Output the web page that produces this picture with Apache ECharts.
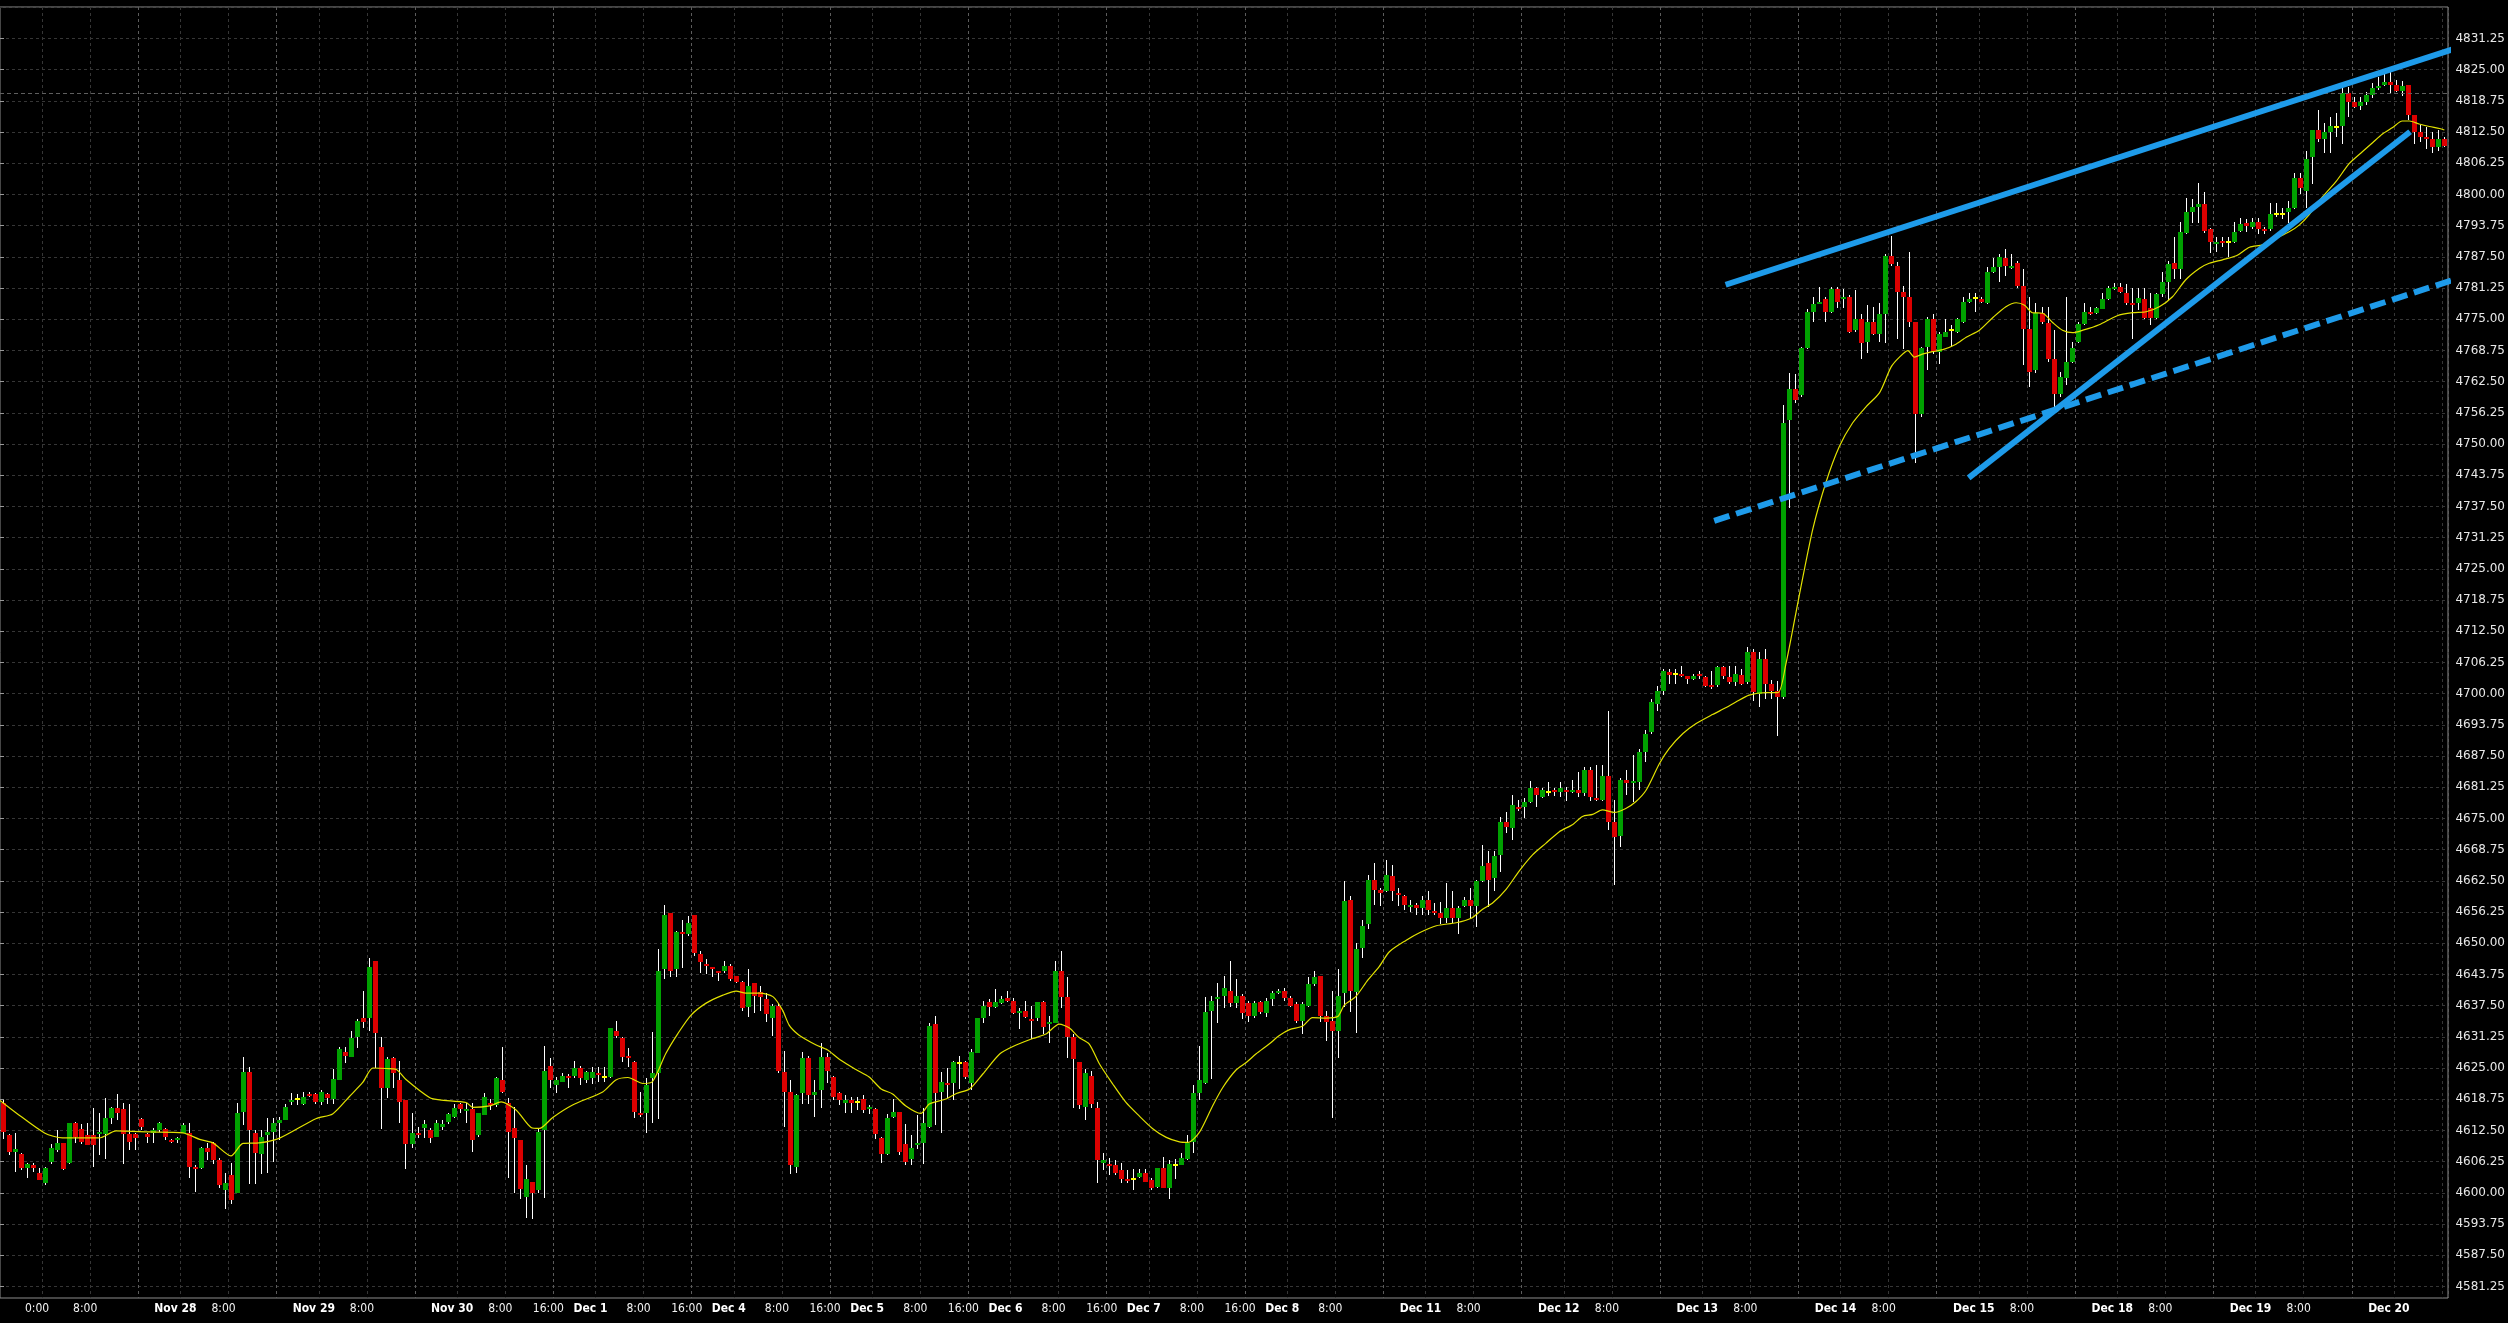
<!DOCTYPE html>
<html>
<head>
<meta charset="utf-8">
<script src="https://cdn.jsdelivr.net/npm/echarts@6.0.0/dist/echarts.min.js"></script>
<style>
html, body { margin:0; padding:0; background:#000; overflow:hidden; }
#chart { width:2508px; height:1323px; }
</style>
</head>
<body>
<div id="chart"></div>
<script>
// ---------- time axis (hourly bars) ----------
const preSession = ['Nov 24 12:00','Nov 26 18:00','Nov 26 19:00','Nov 26 20:00','Nov 26 21:00','Nov 26 22:00','Nov 26 23:00'];
const tradingDays = ['Nov 27','Nov 28','Nov 29','Nov 30','Dec 1','Dec 4','Dec 5','Dec 6','Dec 7','Dec 8','Dec 11','Dec 12','Dec 13','Dec 14','Dec 15','Dec 18','Dec 19'];
const sundayEvening = {'Dec 1':'Dec 3','Dec 8':'Dec 10','Dec 15':'Dec 17'};
const sessionHours = [0,1,2,3,4,5,6,7,8,9,10,11,12,13,14,15,16,18,19,20,21,22,23];
const lastDay = 'Dec 20';
const lastDayHours = [0,1,2,3,4,5,6,7,8];
const gridHours = ['0:00','8:00','16:00'];

// x tick labels
const xTickCats = ['Nov 27 0:00','Nov 27 8:00','Nov 28 0:00','Nov 28 8:00','Nov 29 0:00','Nov 29 8:00',
 'Nov 30 0:00','Nov 30 8:00','Nov 30 16:00','Dec 1 0:00','Dec 1 8:00','Dec 1 16:00',
 'Dec 4 0:00','Dec 4 8:00','Dec 4 16:00','Dec 5 0:00','Dec 5 8:00','Dec 5 16:00',
 'Dec 6 0:00','Dec 6 8:00','Dec 6 16:00','Dec 7 0:00','Dec 7 8:00','Dec 7 16:00',
 'Dec 8 0:00','Dec 8 8:00','Dec 11 0:00','Dec 11 8:00','Dec 12 0:00','Dec 12 8:00',
 'Dec 13 0:00','Dec 13 8:00','Dec 14 0:00','Dec 14 8:00','Dec 15 0:00','Dec 15 8:00',
 'Dec 18 0:00','Dec 18 8:00','Dec 19 0:00','Dec 19 8:00','Dec 20 0:00'];
const xTickText = ['0:00','8:00','Nov 28','8:00','Nov 29','8:00',
 'Nov 30','8:00','16:00','Dec 1','8:00','16:00',
 'Dec 4','8:00','16:00','Dec 5','8:00','16:00',
 'Dec 6','8:00','16:00','Dec 7','8:00','16:00',
 'Dec 8','8:00','Dec 11','8:00','Dec 12','8:00',
 'Dec 13','8:00','Dec 14','8:00','Dec 15','8:00',
 'Dec 18','8:00','Dec 19','8:00','Dec 20'];

// ---------- OHLC ----------
const open = [
4618.0,4611.5,4608.25,4607.75,4605.0,4605.5,4604.0,4602.0,4606.25,4608.5,
4610.0,4606.0,4614.0,4612.75,4611.5,4611.5,4611.75,4611.75,4615.0,4617.0,
4616.75,4611.75,4611.75,4614.75,4611.75,4612.0,4612.5,4612.75,4610.5,4610.5,
4612.0,4612.0,4605.25,4605.0,4609.0,4610.0,4606.5,4600.5,4603.5,4600.0,
4616.25,4624.25,4612.0,4607.75,4611.5,4612.25,4614.0,4614.5,4618.25,4618.75,
4617.75,4619.75,4619.75,4618.25,4619.75,4618.75,4622.5,4628.25,4627.25,4631.25,
4635.0,4635.0,4646.5,4629.25,4621.0,4627.0,4622.5,4618.5,4609.75,4612.0,
4613.0,4612.5,4611.25,4613.25,4614.25,4615.25,4617.75,4616.5,4616.75,4611.5,
4615.5,4618.0,4617.5,4622.5,4618.0,4613.0,4610.5,4599.25,4602.25,4600.5,
4612.5,4625.5,4621.5,4622.25,4623.5,4623.5,4625.0,4622.5,4623.0,4624.0,
4623.25,4623.25,4632.5,4631.0,4627.5,4626.25,4616.0,4616.0,4623.0,4624.0,
4644.75,4656.0,4644.75,4652.25,4651.75,4655.75,4647.75,4645.75,4645.25,4644.5,
4644.5,4645.5,4643.5,4642.25,4637.25,4642.0,4640.25,4638.75,4635.0,4637.5,
4624.25,4620.25,4605.25,4620.0,4627.0,4619.5,4620.5,4627.25,4623.25,4620.0,
4618.0,4618.5,4618.25,4618.75,4616.75,4616.75,4611.0,4607.75,4615.25,4616.25,
4609.75,4606.75,4609.75,4610.0,4613.25,4633.75,4620.25,4622.0,4622.0,4626.0,
4626.25,4622.0,4628.0,4635.0,4638.25,4637.25,4638.0,4639.0,4638.5,4636.0,
4636.5,4634.75,4635.0,4638.25,4634.0,4634.0,4644.5,4639.25,4631.25,4626.25,
4617.25,4623.5,4617.0,4606.0,4605.75,4605.5,4604.5,4602.75,4602.75,4603.25,
4604.0,4602.5,4601.25,4605.0,4601.0,4605.5,4605.5,4606.75,4610.25,4620.0,
4622.0,4636.5,4638.75,4639.5,4640.5,4638.0,4639.5,4638.0,4635.5,4638.25,
4636.0,4638.75,4640.0,4640.5,4639.0,4637.75,4634.5,4637.5,4641.75,4643.5,
4635.5,4634.5,4632.5,4640.0,4658.75,4640.25,4649.0,4653.75,4662.75,4660.75,
4660.5,4663.5,4660.0,4659.5,4657.5,4657.75,4657.0,4658.75,4656.5,4656.0,
4655.0,4657.0,4655.0,4657.5,4658.75,4657.5,4662.5,4666.0,4663.0,4667.75,
4674.25,4673.0,4677.25,4677.25,4678.25,4681.0,4679.25,4680.25,4680.75,4680.25,
4680.75,4680.25,4680.75,4680.0,4684.75,4679.0,4678.75,4683.5,4674.25,4671.5,
4682.75,4682.0,4682.25,4688.25,4692.25,4698.0,4700.5,4704.25,4704.0,4704.0,
4703.5,4703.0,4704.0,4703.25,4701.75,4701.75,4705.25,4703.25,4702.25,4703.75,
4702.25,4708.25,4700.0,4707.0,4702.0,4700.5,4699.25,4754.75,4761.0,4759.75,
4769.25,4776.5,4778.25,4779.0,4776.5,4781.0,4779.25,4779.5,4772.75,4775.0,
4770.5,4774.5,4772.0,4776.0,4787.75,4785.75,4780.5,4779.5,4774.5,4756.0,
4769.5,4775.0,4768.5,4771.5,4772.75,4772.5,4774.5,4778.5,4779.25,4779.0,
4778.25,4784.5,4785.5,4787.25,4785.25,4786.25,4781.75,4773.0,4764.75,4776.25,
4774.25,4767.0,4760.0,4763.25,4766.5,4770.5,4774.0,4776.5,4776.25,4777.0,
4779.0,4781.0,4781.5,4780.25,4778.25,4778.25,4779.0,4777.25,4775.25,4780.0,
4782.5,4786.25,4785.0,4792.25,4796.5,4797.5,4798.0,4793.0,4790.25,4790.75,
4790.5,4790.5,4792.75,4794.25,4793.5,4794.5,4793.0,4793.0,4796.0,4796.0,
4796.5,4797.25,4803.25,4800.75,4807.5,4813.0,4811.0,4812.5,4813.5,4813.75,
4820.25,4818.5,4817.75,4818.5,4820.0,4821.5,4822.0,4822.5,4822.0,4820.75,
4822.0,4816.0,4812.5,4811.5,4811.0,4809.5,4811.0
];
const high = [
4618.5,4611.75,4612.0,4608.0,4606.0,4606.0,4605.0,4605.25,4609.75,4612.5,
4610.0,4614.0,4614.25,4613.75,4614.0,4617.0,4616.0,4619.0,4617.25,4619.75,
4618.0,4617.75,4612.0,4615.0,4612.0,4613.0,4614.25,4613.0,4610.75,4611.25,
4614.0,4614.0,4605.5,4609.25,4610.0,4610.25,4607.0,4604.0,4606.0,4618.0,
4627.25,4625.25,4612.5,4612.5,4615.0,4615.0,4615.25,4617.75,4620.0,4619.75,
4620.25,4620.25,4620.0,4620.5,4620.0,4624.75,4629.25,4629.25,4632.5,4634.75,
4640.5,4647.0,4646.5,4631.25,4627.25,4627.25,4626.5,4618.5,4616.0,4613.25,
4614.5,4613.0,4614.5,4614.5,4616.0,4617.75,4618.0,4618.0,4618.0,4616.0,
4620.0,4618.75,4623.25,4629.25,4619.0,4617.25,4610.5,4605.5,4602.25,4613.0,
4629.5,4627.0,4623.25,4624.0,4623.75,4626.5,4625.5,4624.5,4625.25,4625.25,
4625.25,4633.0,4634.5,4631.25,4629.0,4626.5,4620.25,4623.0,4632.25,4648.75,
4657.75,4656.0,4652.5,4654.75,4655.5,4655.75,4648.5,4646.75,4645.25,4644.5,
4646.5,4645.75,4643.5,4642.5,4644.75,4642.0,4641.5,4640.0,4637.75,4638.0,
4628.5,4622.5,4619.75,4628.25,4627.5,4622.5,4630.0,4628.0,4623.5,4620.25,
4619.5,4619.25,4619.25,4619.5,4617.5,4617.0,4611.25,4615.75,4618.75,4616.25,
4613.75,4611.5,4615.5,4617.0,4634.0,4635.5,4624.25,4625.0,4626.5,4627.5,
4626.5,4628.75,4635.0,4638.5,4638.75,4640.75,4639.5,4640.5,4639.0,4637.0,
4638.5,4637.5,4638.25,4638.5,4635.5,4646.5,4648.5,4643.25,4631.75,4626.25,
4624.75,4624.5,4618.25,4608.0,4607.0,4606.5,4606.0,4604.5,4604.75,4604.75,
4604.75,4603.0,4605.0,4607.25,4606.5,4606.75,4608.0,4611.5,4621.5,4629.5,
4639.25,4639.5,4642.0,4643.5,4646.5,4642.75,4639.75,4638.5,4638.5,4638.5,
4639.0,4640.5,4640.75,4641.0,4639.5,4638.25,4638.25,4643.25,4644.5,4643.5,
4636.5,4640.5,4644.75,4662.5,4659.5,4650.0,4654.75,4663.75,4666.0,4661.0,
4666.75,4665.75,4661.0,4659.75,4658.75,4658.0,4659.5,4660.5,4658.0,4658.25,
4662.0,4660.5,4657.5,4659.25,4661.0,4662.75,4669.75,4668.5,4668.5,4675.25,
4676.25,4679.75,4678.75,4679.0,4682.5,4681.25,4681.0,4682.25,4681.0,4682.25,
4681.25,4682.75,4684.25,4685.25,4685.25,4685.75,4685.75,4696.5,4678.75,4683.0,
4684.75,4687.75,4689.0,4692.75,4699.0,4701.5,4705.0,4705.0,4705.0,4705.5,
4703.5,4704.0,4704.5,4703.5,4704.5,4705.5,4705.5,4705.5,4705.5,4705.0,
4709.25,4709.0,4708.25,4709.0,4702.75,4702.5,4757.75,4764.25,4764.0,4769.5,
4777.0,4779.5,4781.5,4779.5,4781.5,4781.5,4781.0,4779.75,4780.75,4776.0,
4777.75,4777.5,4778.25,4788.0,4791.75,4786.5,4781.75,4788.5,4774.5,4769.5,
4775.5,4776.0,4772.5,4775.0,4773.75,4775.25,4779.5,4780.25,4780.25,4779.5,
4785.5,4787.25,4788.0,4789.0,4788.0,4786.75,4785.0,4779.5,4778.25,4777.5,
4777.5,4772.75,4764.5,4779.5,4770.5,4774.5,4778.25,4777.5,4777.5,4780.25,
4781.75,4782.25,4782.25,4782.0,4781.25,4781.25,4781.25,4780.25,4780.25,4784.5,
4786.75,4791.5,4794.5,4799.25,4799.0,4802.25,4800.5,4793.25,4791.5,4791.5,
4791.5,4794.5,4795.25,4795.0,4795.25,4795.25,4793.5,4798.25,4798.25,4797.25,
4798.75,4804.25,4804.25,4808.75,4813.0,4817.0,4814.25,4815.5,4816.25,4821.5,
4821.5,4819.5,4819.5,4820.5,4822.25,4823.5,4824.5,4824.5,4823.0,4822.75,
4822.0,4816.0,4814.0,4813.5,4812.5,4813.0,4811.5
];
const low = [
4610.75,4607.5,4604.25,4604.5,4603.0,4604.25,4602.5,4601.5,4605.75,4608.25,
4604.5,4605.75,4610.0,4609.75,4609.5,4605.25,4607.5,4606.75,4613.75,4614.5,
4605.75,4608.5,4608.5,4612.5,4610.0,4610.0,4612.25,4610.5,4610.0,4610.0,
4612.0,4603.0,4600.25,4604.75,4606.5,4605.75,4601.0,4596.75,4597.75,4600.0,
4613.5,4601.75,4601.75,4603.75,4604.0,4606.25,4610.5,4614.5,4617.5,4617.5,
4617.5,4619.25,4617.75,4617.5,4617.75,4617.75,4622.5,4626.0,4627.25,4629.0,
4633.0,4632.5,4625.0,4612.75,4619.0,4621.0,4614.0,4604.75,4609.0,4611.0,
4611.0,4610.0,4611.25,4612.5,4613.75,4615.0,4616.0,4614.0,4608.25,4611.25,
4615.5,4616.5,4617.25,4620.0,4603.0,4600.0,4598.75,4595.0,4594.75,4600.0,
4599.0,4621.0,4620.0,4622.25,4621.0,4623.0,4621.5,4622.0,4621.75,4622.25,
4622.25,4623.0,4631.0,4626.25,4625.25,4615.0,4615.25,4612.0,4614.0,4614.75,
4642.75,4643.25,4643.25,4645.0,4651.5,4647.5,4644.0,4643.75,4643.25,4642.5,
4644.0,4642.5,4642.0,4636.5,4635.25,4636.0,4636.5,4634.25,4631.5,4624.0,
4613.25,4603.75,4604.0,4617.75,4617.75,4615.25,4617.0,4622.0,4618.5,4617.5,
4616.0,4616.0,4616.5,4616.0,4615.75,4610.75,4606.0,4607.5,4615.0,4607.5,
4605.5,4605.5,4608.75,4605.75,4613.0,4613.5,4612.0,4619.0,4618.5,4620.75,
4622.75,4620.5,4628.0,4634.0,4635.5,4637.0,4637.75,4638.25,4635.75,4632.75,
4635.0,4630.75,4634.5,4631.75,4630.0,4634.0,4637.0,4627.0,4617.0,4616.75,
4614.5,4617.0,4602.0,4604.5,4603.5,4603.5,4602.0,4602.0,4600.5,4603.0,
4602.25,4600.5,4601.0,4601.0,4598.75,4602.75,4605.5,4606.5,4608.0,4618.5,
4621.75,4622.75,4634.0,4637.0,4637.25,4637.0,4634.75,4634.25,4635.0,4635.75,
4635.25,4637.5,4639.75,4638.5,4637.25,4634.0,4631.75,4637.25,4641.5,4634.25,
4630.5,4615.0,4627.0,4637.25,4636.25,4632.0,4647.0,4652.75,4657.75,4657.5,
4660.25,4658.5,4657.5,4656.75,4656.25,4655.75,4655.75,4655.75,4655.75,4653.75,
4654.0,4654.0,4651.75,4657.25,4655.0,4653.25,4662.25,4657.25,4660.5,4664.25,
4672.0,4670.75,4676.5,4675.0,4678.0,4677.25,4679.0,4679.5,4679.5,4679.25,
4678.5,4680.0,4679.25,4679.5,4678.5,4678.5,4678.5,4672.75,4661.75,4669.25,
4679.75,4678.25,4680.75,4686.25,4692.0,4696.5,4699.75,4702.0,4702.0,4703.25,
4702.0,4702.75,4703.0,4701.25,4701.0,4701.25,4703.0,4702.0,4701.5,4701.75,
4702.0,4698.5,4697.25,4699.0,4699.0,4691.5,4699.0,4737.25,4758.25,4759.5,
4769.0,4774.5,4778.0,4774.5,4776.25,4777.25,4777.25,4772.25,4772.5,4767.0,
4768.25,4771.75,4770.5,4770.25,4785.75,4771.0,4769.0,4773.5,4746.25,4755.5,
4764.75,4768.0,4766.0,4771.5,4769.5,4772.25,4774.25,4778.25,4776.5,4778.25,
4778.0,4784.25,4782.5,4783.75,4785.0,4781.25,4765.75,4761.5,4764.25,4774.0,
4766.5,4757.5,4759.5,4761.75,4766.25,4770.25,4773.75,4775.75,4776.0,4777.0,
4778.75,4780.75,4780.25,4777.75,4771.0,4776.75,4775.0,4773.75,4775.0,4779.5,
4778.75,4783.0,4783.0,4792.0,4794.25,4794.25,4792.25,4788.25,4788.5,4789.5,
4787.5,4790.25,4792.5,4792.5,4793.0,4792.0,4792.0,4792.75,4795.5,4795.0,
4794.25,4797.0,4800.0,4797.25,4802.0,4810.5,4808.25,4808.25,4811.5,4810.0,
4815.5,4817.25,4817.0,4818.0,4819.25,4821.0,4821.75,4820.25,4820.5,4819.75,
4815.0,4810.0,4810.5,4809.0,4808.25,4808.75,4809.5
];
const close = [
4612.25,4608.25,4608.75,4605.0,4605.75,4605.0,4602.5,4605.0,4609.0,4610.0,
4604.75,4614.0,4611.25,4610.25,4609.5,4609.5,4612.25,4615.0,4617.0,4616.0,
4611.75,4610.25,4611.0,4613.25,4611.25,4612.5,4614.0,4611.25,4610.25,4611.0,
4613.5,4605.25,4604.75,4609.0,4608.25,4606.5,4601.5,4602.0,4598.5,4616.0,
4624.25,4612.5,4608.0,4611.25,4612.25,4614.0,4614.5,4617.25,4618.5,4618.75,
4619.25,4619.5,4618.25,4620.25,4619.0,4622.75,4628.75,4627.5,4631.0,4634.5,
4634.25,4645.25,4632.0,4621.0,4626.75,4624.0,4618.25,4609.75,4612.0,4611.5,
4613.75,4611.0,4614.0,4613.75,4615.75,4617.0,4616.75,4616.75,4610.5,4616.0,
4619.25,4617.5,4623.0,4620.25,4612.25,4611.0,4600.75,4602.75,4600.0,4612.25,
4624.5,4622.5,4622.5,4623.5,4623.25,4625.0,4623.0,4624.25,4624.25,4623.75,
4623.25,4633.0,4631.5,4627.25,4627.25,4616.25,4615.5,4621.5,4624.0,4644.5,
4655.75,4644.5,4652.25,4651.75,4654.0,4648.0,4646.25,4645.5,4644.75,4644.0,
4645.5,4642.75,4642.25,4637.0,4641.5,4639.5,4639.25,4635.75,4637.5,4624.5,
4620.25,4605.5,4619.5,4627.0,4619.5,4620.25,4627.25,4624.5,4619.25,4618.5,
4618.5,4618.0,4618.25,4616.5,4617.25,4611.75,4607.75,4615.0,4616.25,4608.25,
4606.25,4609.0,4610.0,4614.0,4633.5,4620.0,4622.25,4621.5,4626.25,4626.0,
4623.25,4628.25,4635.0,4637.5,4637.25,4638.25,4638.75,4638.5,4636.0,4636.5,
4635.25,4634.5,4638.25,4633.25,4634.25,4644.5,4639.25,4631.25,4626.75,4617.5,
4624.0,4617.75,4606.5,4606.5,4605.5,4604.0,4602.75,4602.5,4602.75,4604.0,
4602.25,4601.0,4605.0,4601.0,4605.75,4605.5,4607.0,4610.0,4620.0,4622.5,
4636.25,4638.5,4639.25,4641.0,4638.0,4639.5,4636.0,4635.5,4638.0,4636.25,
4638.5,4640.0,4640.5,4639.0,4637.5,4634.5,4637.75,4641.75,4643.25,4635.5,
4634.25,4632.5,4639.5,4658.5,4640.5,4648.75,4653.5,4662.75,4660.75,4660.0,
4663.75,4660.5,4659.75,4657.75,4657.75,4657.0,4658.75,4656.75,4656.0,4655.0,
4657.0,4655.0,4657.0,4658.75,4657.5,4662.5,4665.5,4662.75,4667.5,4674.25,
4673.25,4677.75,4677.0,4678.25,4681.0,4679.75,4680.75,4680.25,4680.25,4681.0,
4680.25,4680.75,4680.0,4684.75,4679.25,4678.75,4683.5,4674.25,4671.25,4682.75,
4682.0,4682.5,4688.25,4692.0,4698.25,4700.5,4704.5,4703.75,4704.0,4703.75,
4703.0,4703.5,4703.5,4701.5,4701.5,4705.25,4703.5,4702.25,4704.0,4702.0,
4708.25,4700.25,4707.0,4702.0,4700.5,4699.25,4754.25,4761.0,4758.75,4769.25,
4776.5,4778.0,4778.5,4776.5,4781.0,4778.5,4779.5,4772.5,4775.0,4770.25,
4774.5,4772.0,4776.0,4787.75,4786.0,4780.5,4779.5,4774.5,4756.0,4769.25,
4775.0,4768.5,4772.0,4772.5,4772.75,4775.0,4778.5,4779.0,4779.25,4778.5,
4784.5,4785.5,4787.5,4785.75,4785.75,4781.75,4773.0,4764.5,4776.25,4774.5,
4767.0,4760.0,4763.5,4766.5,4769.25,4774.0,4776.5,4776.0,4777.25,4779.0,
4781.25,4781.5,4780.5,4778.25,4777.75,4779.25,4775.25,4775.25,4780.0,4782.5,
4786.0,4785.0,4792.5,4796.5,4797.5,4798.0,4792.75,4790.5,4790.5,4790.25,
4790.5,4792.5,4794.0,4793.75,4794.5,4793.0,4792.75,4796.0,4796.0,4796.0,
4797.25,4803.25,4801.25,4807.0,4813.0,4811.0,4812.5,4813.75,4813.5,4820.25,
4818.5,4817.5,4818.5,4820.0,4821.25,4821.75,4822.5,4822.0,4820.75,4821.75,
4816.0,4812.5,4811.5,4811.0,4809.5,4811.0,4809.75
];

// ---------- moving average (bar position, value) ----------
const maBar = [-0.5,2.2,6.9,9.9,16.0,18.8,24.3,29.9,32.7,34.9,37.9,39.9,42.6,45.9,52.1,54.8,57.6,59.8,61.5,63.7,65.4,67.0,70.9,
72.6,77.0,78.1,80.9,82.8,85.3,87.8,89.2,91.4,94.7,99.7,101.9,103.9,106.4,108.0,110.2,112.2,114.4,116.9,119.7,121.9,123.5,125.8,128.0,129.6,130.7,132.1,133.5,135.2,137.1,139.1,141.8,
144.0,146.0,147.9,150.1,152.6,154.0,156.8,158.5,160.7,162.9,165.7,167.9,171.2,173.4,175.6,177.3,178.9,180.6,182.3,184.5,186.7,188.9,191.1,193.4,195.6,197.0,198.9,201.1,202.8,205.0,206.7,208.3,210.5,212.2,
213.9,216.1,217.7,220.0,221.9,223.0,224.9,226.9,228.8,230.5,233.3,235.5,238.3,241.6,244.1,246.0,247.7,249.9,252.1,254.3,256.5,258.7,261.0,262.6,264.3,265.9,267.9,269.8,271.5,273.2,275.4,277.0,279.3,281.5,
284.2,286.5,288.1,290.3,293.1,295.1,296.4,298.6,300.9,303.1,305.3,307.5,309.7,312.0,313.9,315.3,316.7,317.8,319.1,320.8,322.5,324.7,326.4,328.6,330.8,333.0,334.7,336.1,337.4,339.1,340.8,342.4,344.1,345.8,348.5,
351.5,354.1,356.3,358.5,360.7,362.9,365.2,366.8,369.0,371.3,373.5,375.7,377.9,380.1,381.8,383.4,385.7,387.9,390.1,392.3,394.0,395.6,397.3,398.9,400.1,401.7,403.4,405.1,405.9];
const maValue = [4618.5,4616.0,4612.0,4611.0,4611.0,4612.4,4612.2,4612.0,4610.7,4610.0,4607.4,4609.9,4610.0,4610.9,4614.9,4615.8,4619.3,4622.1,4625.0,4624.9,4624.7,4622.7,4619.1,
4618.6,4618.1,4617.1,4617.4,4618.2,4616.6,4613.1,4612.9,4615.1,4617.6,4620.2,4622.6,4623.1,4621.9,4622.3,4627.9,4631.9,4635.6,4638.0,4639.6,4640.4,4640.0,4640.0,4639.3,4636.6,4633.6,4631.8,4630.7,4629.6,4628.6,4626.7,4624.7,
4623.2,4620.8,4619.8,4617.4,4615.9,4617.8,4618.8,4619.9,4620.8,4623.8,4627.8,4629.3,4630.9,4631.8,4633.8,4633.0,4631.1,4629.8,4625.8,4621.8,4618.1,4615.4,4612.9,4611.1,4610.2,4610.1,4612.1,4617.4,4621.1,4624.6,4626.1,4627.8,4629.8,4631.5,
4632.7,4633.4,4635.1,4635.0,4635.3,4637.6,4639.3,4642.6,4645.3,4648.3,4650.6,4652.1,4653.5,4654.1,4655.0,4656.8,4658.1,4660.8,4664.5,4667.7,4670.0,4672.3,4673.8,4675.4,4675.8,4676.7,4676.2,4677.0,4678.4,4680.7,4686.0,4689.0,4692.0,4694.0,
4695.8,4697.2,4698.3,4699.7,4700.2,4700.2,4705.8,4719.4,4733.0,4742.4,4749.5,4754.2,4757.4,4760.3,4765.4,4767.4,4768.7,4767.4,4768.0,4768.5,4768.9,4770.0,4771.4,4772.8,4775.3,4777.5,4778.3,4777.8,4776.3,4776.2,4774.3,4772.8,4772.3,4772.8,4773.9,
4775.7,4776.3,4776.5,4777.5,4779.5,4782.9,4785.2,4786.2,4786.9,4787.7,4789.4,4789.9,4791.2,4792.5,4793.9,4795.9,4799.6,4802.6,4806.2,4808.6,4810.4,4812.1,4813.4,4814.7,4814.7,4814.1,4813.6,4813.2,4812.9];

// ---------- drawn trend lines (bar position, price) ----------
const upperLineBar = [286.4, 416.4];
const upperLinePrice = [4781.9, 4832.6];
const lowerDashBar = [284.5, 412.0];
const lowerDashPrice = [4734.6, 4784.7];
const steepLineBar = [326.8, 400.2];
const steepLinePrice = [4743.2, 4812.55];
const priceLevel = 4820.25;

// ---------- build ----------
const cats = preSession.slice();
tradingDays.forEach(function (d) {
  sessionHours.forEach(function (h) {
    const day = h >= 18 ? (sundayEvening[d] || d) : d;
    cats.push(day + ' ' + h + ':00');
  });
});
lastDayHours.forEach(function (h) { cats.push(lastDay + ' ' + h + ':00'); });

const labelMap = new Map();
xTickCats.forEach(function (c, i) { labelMap.set(c, xTickText[i]); });
function hourOf(v) { const p = String(v).split(' '); return p[p.length - 1]; }

const UP = '#00a000', DOWN = '#dc0000', DOJI = '#ffff00';
const candleData = open.map(function (o, i) { return [i, o, close[i], low[i], high[i]]; });
const maData = maBar.map(function (b, i) { return [b, maValue[i]]; });
const BLUE = '#1e9bea';
const FONT_X = "'DejaVu Sans Condensed', 'Liberation Sans Narrow', 'DejaVu Sans', sans-serif";

const chart = echarts.init(document.getElementById('chart'), null, { renderer: 'canvas', width: 2508, height: 1323 });

const option = {
  backgroundColor: '#000000',
  animation: false,
  grid: [
    { left: 0, right: 60, top: 7, bottom: 25, show: true, borderColor: '#8c8c8c', borderWidth: 1, backgroundColor: 'transparent' },
    { left: 0, right: 60, top: 7.2, bottom: 36.6, show: false }
  ],
  xAxis: [
    {
      type: 'category', gridIndex: 0, data: cats, boundaryGap: true,
      axisLine: { show: false }, axisTick: { show: false },
      axisLabel: {
        interval: function (i, v) { return labelMap.has(v); },
        formatter: function (v) {
          const t = labelMap.get(v) || '';
          return t.indexOf(':') >= 0 ? '{t|' + t + '}' : '{d|' + t + '}';
        },
        margin: 5,
        padding: [0, 16, 0, 0],
        rich: {
          t: { color: '#f2f2f2', fontSize: 12, fontFamily: FONT_X, fontWeight: 'normal' },
          d: { color: '#ffffff', fontSize: 12, fontFamily: FONT_X, fontWeight: 'bold' }
        }
      },
      splitLine: {
        show: true,
        interval: function (i, v) { return gridHours.indexOf(hourOf(v)) >= 0; },
        lineStyle: { color: ['#363636', '#363636', '#5c5c5c'], type: [3, 3], width: 1 }
      }
    },
    { type: 'value', gridIndex: 0, min: -0.5, max: cats.length - 0.5, show: false },
    { type: 'value', gridIndex: 1, min: 0, max: 1, show: false }
  ],
  yAxis: [
    { type: 'value', gridIndex: 0, min: 4578.93, max: 4837.54, show: false, scale: true },
    {
      type: 'value', gridIndex: 1, position: 'right', min: 4581.25, max: 4837.5, interval: 6.25,
      axisLine: { show: false },
      axisTick: { show: true, length: 4, lineStyle: { color: '#9a9a9a' } },
      axisLabel: {
        showMaxLabel: false, margin: 8, color: '#e8e8e8', fontSize: 12,
        fontFamily: "'DejaVu Sans', sans-serif",
        formatter: function (v) { return v.toFixed(2); }
      },
      splitLine: { show: true, lineStyle: { color: '#363636', type: [3, 3], width: 1 } }
    }
  ],
  series: [
    {
      type: 'custom', name: 'price', xAxisIndex: 1, yAxisIndex: 0, z: 3,
      data: candleData,
      encode: { x: 0, y: [1, 2, 3, 4] },
      renderItem: function (params, api) {
        const i = api.value(0), o = api.value(1), c = api.value(2), l = api.value(3), h = api.value(4);
        const po = api.coord([i, o]);
        const pc = api.coord([i, c]);
        const ph = api.coord([i, Math.max(h, o, c)]);
        const pl = api.coord([i, Math.min(l, o, c)]);
        const cx = Math.floor(po[0]);
        const color = c > o ? UP : (c < o ? DOWN : DOJI);
        let top = Math.round(Math.min(po[1], pc[1]));
        let bot = Math.round(Math.max(po[1], pc[1]));
        if (bot - top < 2) { const mid = (top + bot) / 2; top = Math.round(mid - 1); bot = top + 2; }
        const wt = Math.round(ph[1]), wb = Math.round(pl[1]);
        return {
          type: 'group',
          children: [
            { type: 'rect', shape: { x: cx, y: wt, width: 1, height: Math.max(wb - wt, 1) }, style: { fill: '#ffffff' } },
            { type: 'rect', shape: { x: cx - 2, y: top, width: 5, height: bot - top }, style: { fill: color } }
          ]
        };
      }
    },
    {
      type: 'line', name: 'level', xAxisIndex: 1, yAxisIndex: 0, z: 2, data: [], silent: true,
      markLine: {
        silent: true, symbol: ['none', 'none'], label: { show: false },
        lineStyle: { color: '#5e5e5e', type: [4, 3], width: 1 },
        data: [{ yAxis: priceLevel }]
      }
    },
    {
      type: 'line', name: 'MA', xAxisIndex: 1, yAxisIndex: 0, z: 4,
      data: maData, showSymbol: false, smooth: 0.25, silent: true,
      lineStyle: { color: '#e2e200', width: 1.2 }
    },
    {
      type: 'line', name: 'upper', xAxisIndex: 1, yAxisIndex: 0, z: 6, clip: false, silent: true,
      data: upperLineBar.map(function (b, i) { return [b, upperLinePrice[i]]; }),
      showSymbol: false, lineStyle: { color: BLUE, width: 6 }
    },
    {
      type: 'line', name: 'lowerDash', xAxisIndex: 1, yAxisIndex: 0, z: 6, clip: false, silent: true,
      data: lowerDashBar.map(function (b, i) { return [b, lowerDashPrice[i]]; }),
      showSymbol: false, lineStyle: { color: BLUE, width: 6, type: [16, 7] }
    },
    {
      type: 'line', name: 'steep', xAxisIndex: 1, yAxisIndex: 0, z: 6, clip: false, silent: true,
      data: steepLineBar.map(function (b, i) { return [b, steepLinePrice[i]]; }),
      showSymbol: false, lineStyle: { color: BLUE, width: 6 }
    }
  ]
};
chart.setOption(option);
</script>
</body>
</html>
